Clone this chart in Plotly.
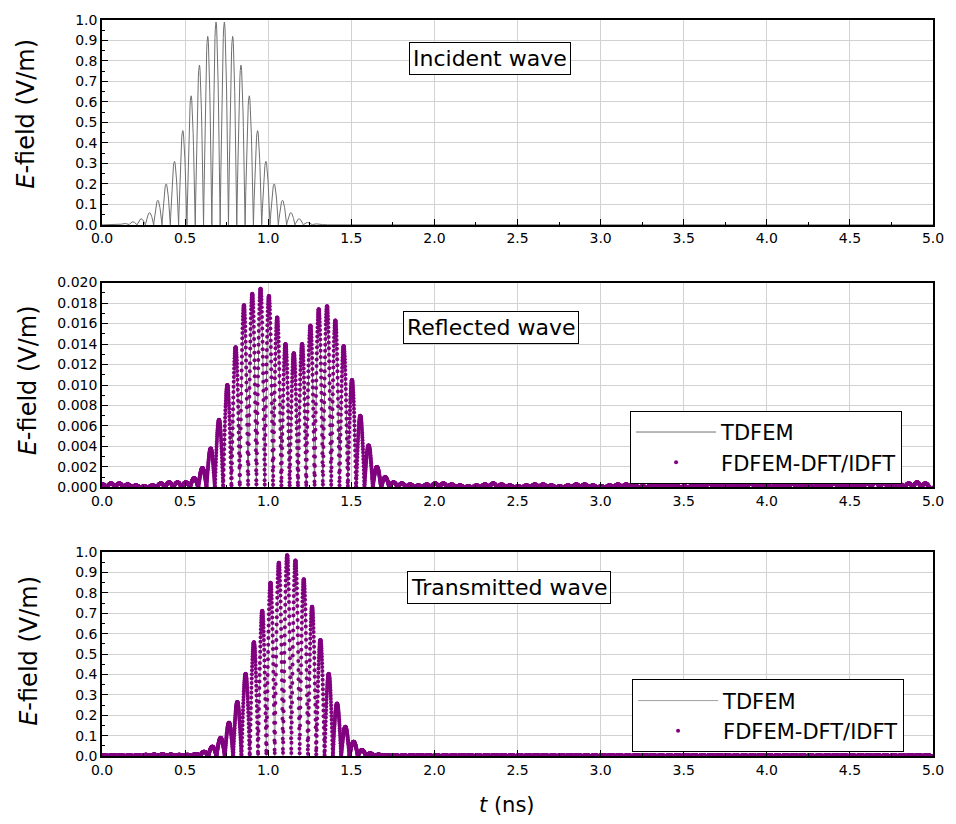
import numpy as np
import plotly.graph_objects as go

# ---------------- data ----------------
LOBE = 0.05  # ns, spacing between successive lobes of |E|

# Incident wave: lobe peak heights (V/m), first lobe peak at inc_t0 (ns)
inc_t0 = 0.086
inc_peaks = [0.003, 0.007, 0.015, 0.03, 0.06, 0.12, 0.20, 0.31, 0.46, 0.63, 0.78, 0.92, 0.99,
             0.99, 0.92, 0.78, 0.63, 0.46, 0.31, 0.20, 0.12, 0.06, 0.03, 0.012, 0.005, 0.002]

# Reflected wave: lobe peak heights (V/m), first lobe peak at refl_t0 (ns)
refl_t0 = 0.004
refl_pre = [0.0003, 0.0004, 0.0004, 0.0003, 0.0002, 0.0001, 0.0002, 0.0004, 0.0005, 0.0005, 0.0005]
refl_pulse = [0.0009, 0.0019, 0.0038, 0.0066, 0.0100, 0.0137, 0.0178, 0.0189, 0.0194, 0.0187,
              0.0166, 0.0140, 0.0131, 0.0140, 0.0158, 0.0174, 0.0177, 0.0163, 0.0138, 0.0105,
              0.0070, 0.0041, 0.0020, 0.0010]
refl_post = [0.0005, 0.0004, 0.0003, 0.0002, 0.0003, 0.0004, 0.0004, 0.0003, 0.0002, 0.0001,
             0.0002, 0.0003, 0.0004, 0.0003, 0.0002, 0.0001, 0.0002, 0.0003, 0.0003, 0.0002,
             0.0001, 0.0002, 0.0003, 0.0003, 0.0002, 0.0001, 0.0002, 0.0003, 0.0003, 0.0002,
             0.0001, 0.0002, 0.0003, 0.0003, 0.0002, 0.0001, 0.0002, 0.0003, 0.0004, 0.0003,
             0.0002, 0.0002, 0.0003, 0.0004, 0.0003, 0.0002, 0.0002, 0.0003, 0.0004, 0.0003,
             0.0002, 0.0002, 0.0003, 0.0004, 0.0003, 0.0002, 0.0003, 0.0004, 0.0005, 0.0004,
             0.0003, 0.0003, 0.0004, 0.0005, 0.0004]

# Transmitted wave: lobe peak heights (V/m), first lobe peak at trans_t0 (ns)
trans_t0 = 0.014
trans_pre = [0.004, 0.005, 0.004, 0.003, 0.004, 0.006, 0.007, 0.008, 0.007, 0.006]
trans_pulse = [0.006, 0.010, 0.021, 0.046, 0.089, 0.163, 0.265, 0.403, 0.558, 0.712,
               0.850, 0.948, 0.985, 0.959, 0.867, 0.732, 0.569, 0.403, 0.257, 0.143,
               0.070, 0.029, 0.013, 0.007]
trans_post = [0.005, 0.004, 0.003, 0.004, 0.005, 0.004, 0.003, 0.003, 0.004, 0.005,
              0.004, 0.003, 0.004, 0.005, 0.004, 0.003, 0.003, 0.004, 0.005, 0.004,
              0.003, 0.004, 0.005, 0.004, 0.003, 0.003, 0.004, 0.005, 0.004, 0.003,
              0.004, 0.005, 0.004, 0.003, 0.003, 0.004, 0.005, 0.004, 0.003, 0.004,
              0.005, 0.004, 0.003, 0.003, 0.004, 0.005, 0.004, 0.003, 0.004, 0.005,
              0.004, 0.003, 0.003, 0.004, 0.005, 0.004, 0.003, 0.004, 0.005, 0.004,
              0.003, 0.003, 0.004, 0.005, 0.004, 0.004]

x_ticks = [0.0, 0.5, 1.0, 1.5, 2.0, 2.5, 3.0, 3.5, 4.0, 4.5, 5.0]
panel_titles = ["Incident wave", "Reflected wave", "Transmitted wave"]
legend_names = ["TDFEM", "FDFEM-DFT/IDFT"]

FONT = "DejaVu Sans"


def lobes(t0, peaks, n, phase=0.0):
    ts, vs = [], []
    s = (np.arange(n) + phase) / n - 0.5
    for k, p in enumerate(peaks):
        c = t0 + k * LOBE
        ts.append(c + s * LOBE)
        vs.append(p * np.cos(np.pi * s))
    t = np.concatenate(ts)
    v = np.concatenate(vs)
    t = np.concatenate([[0.0], t, [5.0]])
    v = np.concatenate([[0.0], v, [0.0]])
    m = (t >= 0) & (t <= 5.0)
    return t[m], v[m]


refl_peaks = refl_pre + refl_pulse + refl_post
trans_peaks = trans_pre + trans_pulse + trans_post

fig = go.Figure()

# Panel 1
t, v = lobes(inc_t0, inc_peaks, 24)
fig.add_trace(go.Scatter(x=t, y=v, mode="lines", line=dict(color="#707070", width=1),
                         showlegend=False, xaxis="x", yaxis="y", hoverinfo="skip"))

# Panel 2
t, v = lobes(refl_t0, refl_peaks, 24)
fig.add_trace(go.Scatter(x=t, y=v, mode="lines", line=dict(color="#707070", width=1),
                         name=legend_names[0], legend="legend", xaxis="x2", yaxis="y2"))
t, v = lobes(refl_t0, refl_peaks, 60, phase=0.3)
fig.add_trace(go.Scatter(x=t, y=v, mode="markers",
                         marker=dict(color="#800080", size=4),
                         name=legend_names[1], legend="legend", xaxis="x2", yaxis="y2"))

# Panel 3
t, v = lobes(trans_t0, trans_peaks, 24)
fig.add_trace(go.Scatter(x=t, y=v, mode="lines", line=dict(color="#a0a0a0", width=1),
                         name=legend_names[0], legend="legend2", xaxis="x3", yaxis="y3"))
t, v = lobes(trans_t0, trans_peaks, 60, phase=0.3)
fig.add_trace(go.Scatter(x=t, y=v, mode="markers",
                         marker=dict(color="#800080", size=4),
                         name=legend_names[1], legend="legend2", xaxis="x3", yaxis="y3"))

W, H = 956, 824
L, R, T, B = 102, 20, 16, 68
PW, PH = W - L - R, H - T - B


def px(xp):
    return (xp - L) / PW


def py(yp):
    return (H - B - yp) / PH


domains = [(py(222), py(16)), (py(486), py(280)), (py(756), py(551))]


def xax(anchor):
    return dict(range=[0, 5], tickvals=x_ticks, ticktext=[f"{v:.1f}" for v in x_ticks],
                ticks="inside", ticklen=6, tickwidth=1, tickcolor="black",
                minor=dict(ticks="inside", ticklen=3, dtick=0.25, tick0=0, tickcolor="black"),
                showline=True, linecolor="black", linewidth=1.5, mirror=True,
                showgrid=True, gridcolor="#d2d2d2", gridwidth=1, zeroline=False,
                tickfont=dict(family=FONT, size=14, color="black"), anchor=anchor,
                domain=[0, 1])


def yax(anchor, dom, rng, dtick, minor, fmt):
    return dict(range=rng, dtick=dtick, tick0=0, tickformat=fmt,
                ticks="inside", ticklen=6, tickwidth=1, tickcolor="black",
                minor=dict(ticks="inside", ticklen=3, dtick=minor, tick0=0, tickcolor="black"),
                showline=True, linecolor="black", linewidth=1.5, mirror=True,
                showgrid=True, gridcolor="#d2d2d2", gridwidth=1, zeroline=False,
                tickfont=dict(family=FONT, size=14, color="black"), anchor=anchor,
                domain=list(dom))


legend_common = dict(xanchor="left", yanchor="top", bgcolor="white", bordercolor="black",
                     borderwidth=1, font=dict(family=FONT, size=21, color="black"),
                     itemwidth=80, tracegroupgap=0)

annots = []
ytitle_pos = [(26, 110), (28, 378), (28, 650)]
for (xp, yp) in ytitle_pos:
    annots.append(dict(text="<i>E</i>-field (V/m)", x=px(xp), y=py(yp), xref="paper", yref="paper",
                       textangle=-90, showarrow=False, xanchor="center", yanchor="middle",
                       font=dict(family=FONT, size=24, color="black")))
annots.append(dict(text="<i>t</i> (ns)", x=px(508), y=py(805), xref="paper", yref="paper",
                   showarrow=False, xanchor="center", yanchor="middle",
                   font=dict(family=FONT, size=21, color="black")))
box_pos = [(491, 54.5), (492.5, 325), (510.5, 587)]
for title, (xp, yp) in zip(panel_titles, box_pos):
    annots.append(dict(text=title, x=px(xp), y=py(yp), xref="paper", yref="paper",
                       showarrow=False, xanchor="center", yanchor="middle",
                       borderpad=3, borderwidth=1, bordercolor="black",
                       bgcolor="white", font=dict(family=FONT, size=22, color="black")))

fig.update_layout(
    width=W, height=H, margin=dict(l=L, r=R, t=T, b=B),
    plot_bgcolor="white", paper_bgcolor="white",
    xaxis=xax("y"), xaxis2=xax("y2"), xaxis3=xax("y3"),
    yaxis=yax("x", domains[0], [0, 1.0], 0.1, 0.05, ".1f"),
    yaxis2=yax("x2", domains[1], [0, 0.02], 0.002, 0.001, ".3f"),
    yaxis3=yax("x3", domains[2], [0, 1.0], 0.1, 0.05, ".1f"),
    legend=dict(x=px(632), y=py(409), **legend_common),
    legend2=dict(x=px(634), y=py(679), **legend_common),
    annotations=annots,
    font=dict(family=FONT, color="black"),
)

fig.write_html("out.html")
